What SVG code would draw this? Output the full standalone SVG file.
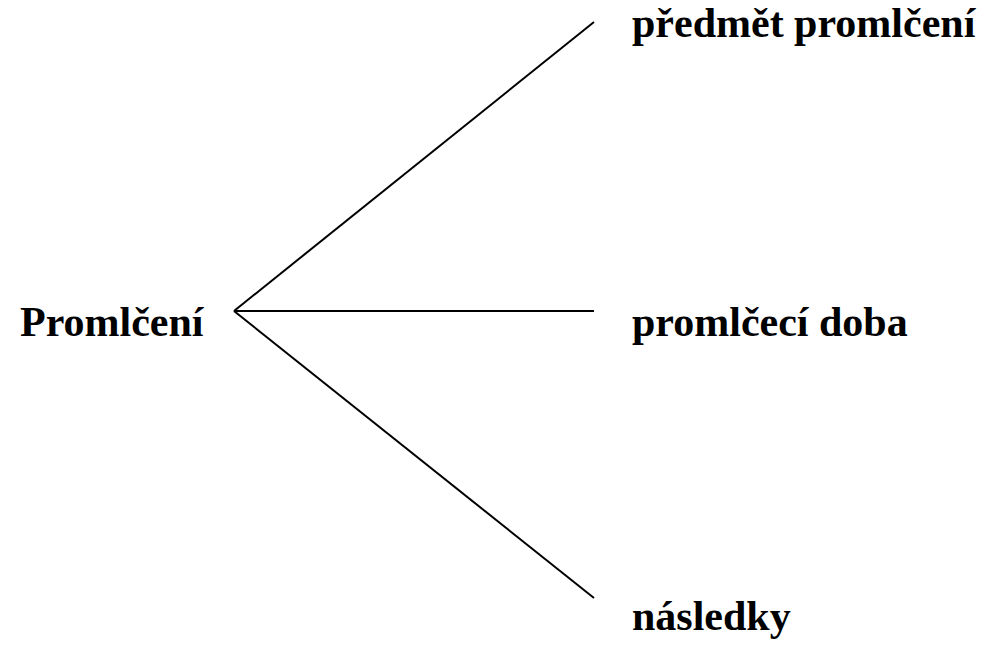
<svg xmlns="http://www.w3.org/2000/svg" width="992" height="646" viewBox="0 0 992 646">
<style>
.t{font-family:"Liberation Serif","Times New Roman",serif;font-weight:bold;font-size:42px;fill:#000}
.c line{stroke:#000;stroke-width:2;fill:none}
</style>
<rect width="992" height="646" fill="#fff"/>
<g class="c" id="connectors">
<line x1="234" y1="311" x2="594" y2="22"/>
<line x1="234" y1="311" x2="594" y2="311"/>
<line x1="234" y1="311" x2="594" y2="598"/>
</g>
<g id="root"><text class="t" x="20" y="336">Promlčení</text></g>
<g id="n1"><text class="t" x="632" y="37">předmět promlčení</text></g>
<g id="n2"><text class="t" x="632" y="336">promlčecí doba</text></g>
<g id="n3"><text class="t" x="632" y="630">následky</text></g>
</svg>
